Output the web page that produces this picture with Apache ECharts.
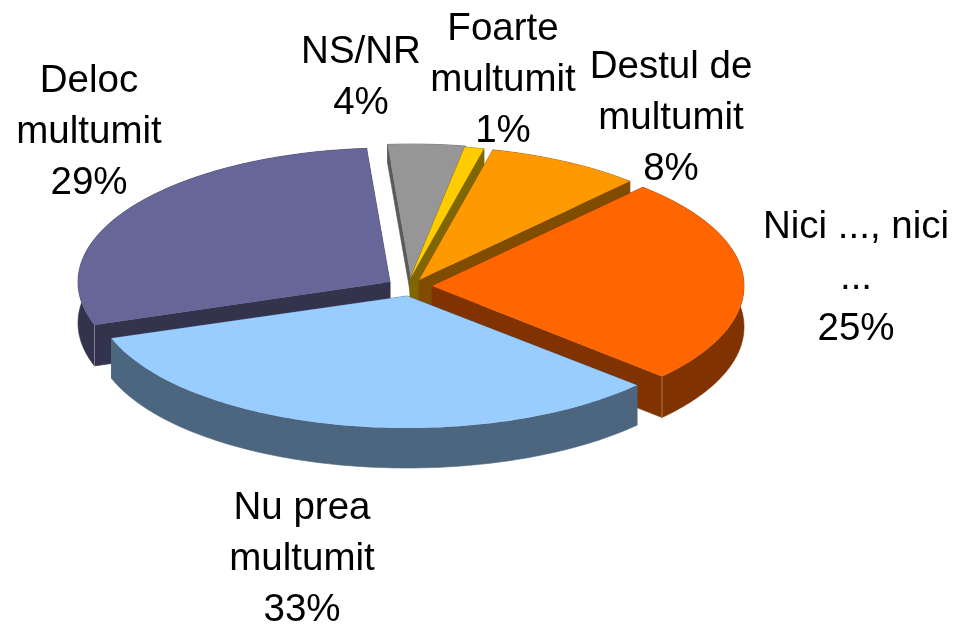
<!DOCTYPE html>
<html>
<head>
<meta charset="utf-8">
<style>html,body{margin:0;padding:0;background:#fff}#c{width:958px;height:626px}</style>
<script src="https://cdn.jsdelivr.net/npm/echarts@6/dist/echarts.min.js"></script>
</head>
<body>
<div id="c"></div>
<script>
// Data, clockwise from the top of the pie
const categories = ['NS/NR', 'Foarte\nmultumit', 'Destul de\nmultumit', 'Nici ..., nici\n...', 'Nu prea\nmultumit', 'Deloc\nmultumit'];
const values = [4, 1, 8, 25, 33, 29];

// Styling and layout, per slice
const topColors  = ['#969696', '#FFCC00', '#FF9900', '#FF6600', '#99CCFF', '#666699'];
const sideColors = ['#5a5a5a', '#806600', '#804D00', '#803300', '#4D6680', '#33334D'];
const apexes = [[411, 278], [410, 279], [419, 280], [432, 286], [407, 296], [390, 282]];
const radiiY = [134, 134, 134, 134, 132, 134];
const depths = [19, 41, 41, 41, 40, 41];
const paintRank = [0, 1, 2, 4, 5, 3];
const labelCenters = [[361, 78], [503, 80], [671, 118], [856, 278], [302, 559], [89, 132]];
const RX = 312, START_DEG = -4.3;
const total = values.reduce((a, b) => a + b, 0);

function pt(i, deg, dy) {
  const r = deg * Math.PI / 180, apex = apexes[i];
  return [apex[0] + RX * Math.sin(r), apex[1] - radiiY[i] * Math.cos(r) + (dy || 0)];
}

function renderItem(params, api) {
  const i = params.dataIndex;
  const before = values.slice(0, i).reduce((a, b) => a + b, 0);
  const a0 = START_DEG + before / total * 360;
  const a1 = a0 + api.value(0) / total * 360;
  const apex = apexes[i], d = depths[i], base = paintRank[i] * 10;
  const arc = [];
  const n = Math.max(2, Math.ceil(a1 - a0));
  for (let k = 0; k <= n; k++) arc.push(a0 + (a1 - a0) * k / n);

  const side = { fill: sideColors[i], stroke: sideColors[i], lineWidth: 0.6 };
  const children = [];
  // radial walls
  [a0, a1].forEach(a => {
    const p = pt(i, a);
    children.push({ type: 'polygon', z2: base, shape: { points: [apex, p, [p[0], p[1] + d], [apex[0], apex[1] + d]] }, style: side });
  });
  // outer wall
  const top = arc.map(a => pt(i, a));
  const bot = arc.map(a => pt(i, a, d)).reverse();
  children.push({ type: 'polygon', z2: base + 1, shape: { points: top.concat(bot) }, style: side });
  // corner highlights where two walls both face the viewer
  const corners = [];
  if (a1 > 90 && a1 < 180) corners.push(a1);
  if (a0 > 180 && a0 < 270) corners.push(a0);
  corners.forEach(a => {
    const p = pt(i, a);
    children.push({ type: 'line', z2: base + 2, shape: { x1: p[0], y1: p[1], x2: p[0], y2: p[1] + d },
      style: { stroke: 'rgba(255,255,255,0.35)', lineWidth: 1 } });
  });
  // top face
  children.push({ type: 'polygon', z2: base + 3, shape: { points: [apex].concat(top) },
    style: { fill: topColors[i] } });
  // label
  children.push({ type: 'text', z2: 100, style: {
    text: categories[i] + '\n' + api.value(0) + '%',
    x: labelCenters[i][0], y: labelCenters[i][1],
    align: 'center', verticalAlign: 'middle',
    font: '38.5px "Liberation Sans", Arial, sans-serif', lineHeight: 51, fill: '#000'
  } });
  return { type: 'group', children };
}

const chart = echarts.init(document.getElementById('c'), null, { renderer: 'canvas' });
chart.setOption({
  animation: false,
  backgroundColor: '#fff',
  series: [{
    type: 'custom',
    coordinateSystem: 'none',
    renderItem,
    data: values.map(v => [v])
  }]
});
</script>
</body>
</html>
